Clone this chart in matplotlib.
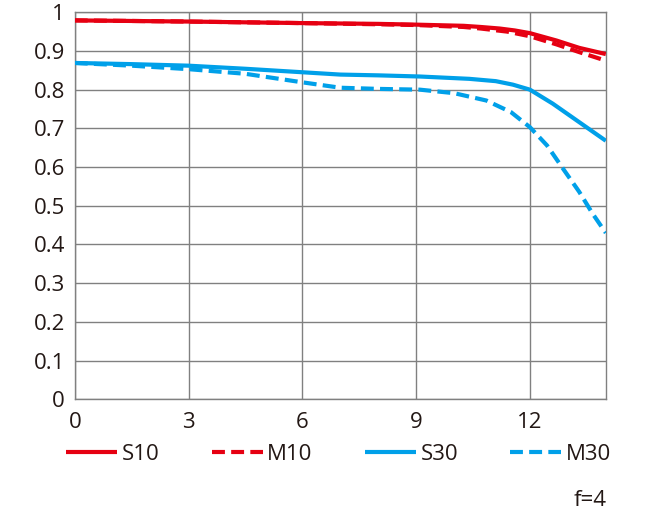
import matplotlib
matplotlib.use("Agg")
import matplotlib.pyplot as plt

# Data
x_s10 = [0, 3, 6, 8, 9, 10.25, 10.7, 11.2, 11.6, 12, 12.7, 13.3, 14]
s10 = [0.979, 0.976, 0.972, 0.970, 0.968, 0.965, 0.962, 0.958, 0.953, 0.946, 0.927, 0.908, 0.892]

x_m10 = [0, 3, 6, 8, 9, 10.25, 10.7, 11.4, 12, 12.7, 13.3, 14]
m10 = [0.979, 0.976, 0.972, 0.969, 0.967, 0.962, 0.958, 0.950, 0.938, 0.917, 0.897, 0.875]

x_s30 = [0, 1.5, 3, 4.5, 6, 7, 8, 9.1, 10.4, 11.1, 11.55, 12, 12.6, 13.3, 14]
s30 = [0.869, 0.866, 0.862, 0.854, 0.845, 0.839, 0.837, 0.834, 0.828, 0.822, 0.813, 0.800, 0.764, 0.716, 0.668]

x_m30 = [0, 1.5, 3, 4.5, 6, 7, 8, 9.1, 10, 10.85, 11.5, 12, 12.45, 12.9, 13.3, 13.65, 14]
m30 = [0.869, 0.862, 0.853, 0.841, 0.819, 0.805, 0.802, 0.800, 0.791, 0.772, 0.742, 0.703, 0.656, 0.592, 0.536, 0.480, 0.430]

series_names = ["S10", "M10", "S30", "M30"]
x_ticks = [0, 3, 6, 9, 12]
x_tick_labels = ["0", "3", "6", "9", "12"]
y_ticks = [0, 0.1, 0.2, 0.3, 0.4, 0.5, 0.6, 0.7, 0.8, 0.9, 1.0]
y_tick_labels = ["0", "0.1", "0.2", "0.3", "0.4", "0.5", "0.6", "0.7", "0.8", "0.9", "1"]
note = "f=4"

RED = "#E60012"
BLUE = "#00A0E9"
TXT = "#231815"
GRID = "#808080"

plt.rcParams['font.family'] = ['Open Sans', 'DejaVu Sans']
FS = 16

fig = plt.figure(figsize=(6.5, 5.13), dpi=100)
ax = fig.add_axes([0.115, 0.2216, 0.817, 0.7545])

lw = 3.0
dash = (3.1, 1.5)
ax.plot(x_s10, s10, color=RED, lw=lw, solid_capstyle='butt', label=series_names[0], zorder=4)
ax.plot(x_m10, m10, color=RED, lw=lw, linestyle=(0, dash), dash_capstyle='butt', label=series_names[1], zorder=3)
ax.plot(x_s30, s30, color=BLUE, lw=lw, solid_capstyle='butt', label=series_names[2], zorder=4)
ax.plot(x_m30, m30, color=BLUE, lw=lw, linestyle=(0, dash), dash_capstyle='butt', label=series_names[3], zorder=3)

ax.set_xlim(0, 14)
ax.set_ylim(0, 1)
ax.set_xticks(x_ticks)
ax.set_xticklabels(x_tick_labels)
ax.set_yticks(y_ticks)
ax.set_yticklabels(y_tick_labels)
ax.tick_params(axis='both', length=0, labelsize=FS, colors=TXT)
ax.tick_params(axis='x', pad=9)
ax.tick_params(axis='y', pad=7)
ax.grid(True, color=GRID, lw=1.0)
ax.set_axisbelow(True)
for sp in ax.spines.values():
    sp.set_color(GRID)
    sp.set_linewidth(1.0)

leg = fig.legend(loc='center', bbox_to_anchor=(0.521, 0.115), ncol=4, frameon=False,
                 fontsize=FS, handlelength=2.3, handletextpad=0.2, columnspacing=2.35,
                 labelcolor=TXT, borderpad=0, borderaxespad=0)

fig.text(0.934, 0.013, note, ha='right', va='baseline', fontsize=FS, color=TXT)

fig.savefig("out.png", dpi=100)
